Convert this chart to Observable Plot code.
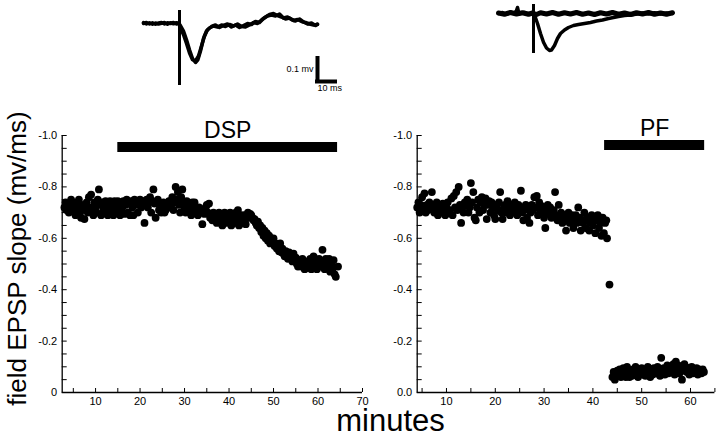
<!DOCTYPE html>
<html><head><meta charset="utf-8">
<script src="https://cdn.jsdelivr.net/npm/d3@7"></script>
<script src="https://cdn.jsdelivr.net/npm/@observablehq/plot@0.6"></script>
<style>
html,body{margin:0;padding:0;background:#fff;}
#chart{position:relative;width:720px;height:436px;overflow:hidden;background:#fff;}
#chart svg{position:absolute;left:0;top:0;}
</style></head><body><div id="chart"></div>
<script>
// ---------------- DATA ----------------
// y axis (field EPSP slope, mv/ms)
const yTicks = [-1.0, -0.8, -0.6, -0.4, -0.2, 0];
const leftYLabels = ["-1.0", "-0.8", "-0.6", "-0.4", "-0.2", "0"];
const rightYLabels = ["-1.0", "-0.8", "-0.6", "-0.4", "-0.2", "0.0"];
const yMinorTicks = [-1.0, -0.95, -0.9, -0.85, -0.8, -0.75, -0.7, -0.65, -0.6, -0.55, -0.5, -0.45, -0.4, -0.35, -0.3, -0.25, -0.2, -0.15, -0.1, -0.05, 0];
// x axes (minutes)
const dspXRange = [2.5, 70];
const pfXRange = [4, 65];
const xTicksLeft = [10, 20, 30, 40, 50, 60, 70];
const xTicksRight = [10, 20, 30, 40, 50, 60];
const xMinorLeft = [5, 10, 15, 20, 25, 30, 35, 40, 45, 50, 55, 60, 65, 70];
const xMinorRight = [5, 10, 15, 20, 25, 30, 35, 40, 45, 50, 55, 60, 65];
// treatment periods (minutes)
const dspPeriod = [15, 64.4];
const pfPeriod = [42.4, 62.9];

// DSP experiment: [minute, samples within that minute]
const dspSlope = [
  [3, [-0.72, -0.74, -0.71, -0.73]],
  [4, [-0.70, -0.73, -0.75, -0.72]],
  [5, [-0.74, -0.71, -0.69, -0.73]],
  [6, [-0.72, -0.75, -0.70, -0.68]],
  [7, [-0.71, -0.73, -0.675, -0.72]],
  [8, [-0.74, -0.70, -0.76, -0.72]],
  [9, [-0.77, -0.71, -0.69, -0.74]],
  [10, [-0.72, -0.70, -0.75, -0.79]],
  [11, [-0.73, -0.69, -0.74, -0.71]],
  [12, [-0.70, -0.745, -0.72, -0.69]],
  [13, [-0.73, -0.745, -0.70, -0.72]],
  [14, [-0.69, -0.745, -0.73, -0.70]],
  [15, [-0.745, -0.71, -0.69, -0.74]],
  [16, [-0.72, -0.745, -0.695, -0.73]],
  [17, [-0.75, -0.70, -0.74, -0.69]],
  [18, [-0.745, -0.72, -0.69, -0.75]],
  [19, [-0.73, -0.745, -0.70, -0.74]],
  [20, [-0.75, -0.72, -0.745, -0.73]],
  [21, [-0.66, -0.745, -0.75, -0.72]],
  [22, [-0.74, -0.76, -0.70, -0.745]],
  [23, [-0.79, -0.735, -0.68, -0.74]],
  [24, [-0.75, -0.71, -0.73, -0.70]],
  [25, [-0.72, -0.74, -0.70, -0.71]],
  [26, [-0.735, -0.72, -0.745, -0.73]],
  [27, [-0.72, -0.76, -0.71, -0.74]],
  [28, [-0.80, -0.75, -0.78, -0.73]],
  [29, [-0.70, -0.76, -0.79, -0.74]],
  [30, [-0.72, -0.70, -0.745, -0.73]],
  [31, [-0.71, -0.73, -0.69, -0.74]],
  [32, [-0.72, -0.74, -0.70, -0.71]],
  [33, [-0.69, -0.72, -0.71, -0.70]],
  [34, [-0.655, -0.71, -0.695, -0.72]],
  [35, [-0.73, -0.70, -0.735, -0.68]],
  [36, [-0.69, -0.67, -0.70, -0.68]],
  [37, [-0.68, -0.66, -0.69, -0.70]],
  [38, [-0.67, -0.69, -0.65, -0.68]],
  [39, [-0.70, -0.66, -0.68, -0.69]],
  [40, [-0.67, -0.70, -0.65, -0.69]],
  [41, [-0.68, -0.66, -0.70, -0.67]],
  [42, [-0.71, -0.65, -0.69, -0.68]],
  [43, [-0.66, -0.69, -0.67, -0.655]],
  [44, [-0.69, -0.70, -0.68, -0.695]],
  [45, [-0.69, -0.68, -0.67, -0.675]],
  [46, [-0.66, -0.65, -0.665, -0.64]],
  [47, [-0.65, -0.625, -0.64, -0.61]],
  [48, [-0.63, -0.60, -0.62, -0.59]],
  [49, [-0.61, -0.58, -0.60, -0.59]],
  [50, [-0.60, -0.57, -0.58, -0.56]],
  [51, [-0.57, -0.55, -0.58, -0.545]],
  [52, [-0.56, -0.54, -0.53, -0.55]],
  [53, [-0.535, -0.52, -0.545, -0.53]],
  [54, [-0.53, -0.51, -0.54, -0.52]],
  [55, [-0.525, -0.50, -0.49, -0.515]],
  [56, [-0.51, -0.49, -0.52, -0.50]],
  [57, [-0.48, -0.50, -0.485, -0.51]],
  [58, [-0.50, -0.52, -0.48, -0.49]],
  [59, [-0.53, -0.49, -0.51, -0.48]],
  [60, [-0.50, -0.52, -0.49, -0.51]],
  [61, [-0.555, -0.50, -0.48, -0.52]],
  [62, [-0.51, -0.49, -0.52, -0.47]],
  [63, [-0.50, -0.48, -0.515, -0.46]],
  [64, [-0.45, -0.49]]
];

// PF experiment: baseline, transition points, after PF
const pfBaseline = [
  [4, [-0.72, -0.74, -0.70, -0.73]],
  [5, [-0.76, -0.72, -0.775, -0.70]],
  [6, [-0.73, -0.71, -0.74, -0.72]],
  [7, [-0.78, -0.73, -0.70, -0.715]],
  [8, [-0.74, -0.69, -0.72, -0.73]],
  [9, [-0.70, -0.735, -0.71, -0.69]],
  [10, [-0.72, -0.74, -0.70, -0.71]],
  [11, [-0.755, -0.69, -0.765, -0.72]],
  [12, [-0.78, -0.71, -0.80, -0.73]],
  [13, [-0.66, -0.72, -0.70, -0.74]],
  [14, [-0.73, -0.75, -0.70, -0.72]],
  [15, [-0.815, -0.74, -0.78, -0.68]],
  [16, [-0.67, -0.72, -0.75, -0.70]],
  [17, [-0.74, -0.76, -0.71, -0.73]],
  [18, [-0.755, -0.675, -0.73, -0.745]],
  [19, [-0.70, -0.74, -0.72, -0.69]],
  [20, [-0.675, -0.73, -0.71, -0.74]],
  [21, [-0.78, -0.70, -0.675, -0.72]],
  [22, [-0.73, -0.70, -0.745, -0.71]],
  [23, [-0.69, -0.73, -0.72, -0.70]],
  [24, [-0.74, -0.71, -0.69, -0.73]],
  [25, [-0.72, -0.785, -0.70, -0.67]],
  [26, [-0.71, -0.73, -0.68, -0.72]],
  [27, [-0.66, -0.70, -0.73, -0.71]],
  [28, [-0.76, -0.72, -0.765, -0.69]],
  [29, [-0.74, -0.71, -0.725, -0.70]],
  [30, [-0.68, -0.64, -0.71, -0.73]],
  [31, [-0.695, -0.72, -0.68, -0.70]],
  [32, [-0.71, -0.78, -0.69, -0.67]],
  [33, [-0.73, -0.68, -0.70, -0.66]],
  [34, [-0.67, -0.69, -0.63, -0.68]],
  [35, [-0.70, -0.66, -0.68, -0.69]],
  [36, [-0.64, -0.67, -0.69, -0.66]],
  [37, [-0.72, -0.68, -0.63, -0.67]],
  [38, [-0.66, -0.70, -0.64, -0.68]],
  [39, [-0.67, -0.63, -0.66, -0.69]],
  [40, [-0.65, -0.68, -0.62, -0.67]],
  [41, [-0.69, -0.64, -0.66, -0.61]],
  [42, [-0.68, -0.62, -0.66, -0.67]]
];
const pfTransition = [[42.9, -0.60], [43.4, -0.42]];
const pfAfter = [
  [44, [-0.06, -0.08, -0.05, -0.07]],
  [45, [-0.085, -0.065, -0.09, -0.06]],
  [46, [-0.07, -0.095, -0.08, -0.06]],
  [47, [-0.10, -0.075, -0.06, -0.085]],
  [48, [-0.065, -0.09, -0.07, -0.10]],
  [49, [-0.08, -0.06, -0.085, -0.075]],
  [50, [-0.095, -0.07, -0.08, -0.065]],
  [51, [-0.085, -0.10, -0.075, -0.06]],
  [52, [-0.09, -0.07, -0.095, -0.08]],
  [53, [-0.075, -0.10, -0.085, -0.065]],
  [54, [-0.135, -0.08, -0.095, -0.07]],
  [55, [-0.09, -0.105, -0.075, -0.085]],
  [56, [-0.10, -0.08, -0.11, -0.07]],
  [57, [-0.12, -0.09, -0.105, -0.075]],
  [58, [-0.095, -0.05, -0.085, -0.11]],
  [59, [-0.10, -0.08, -0.095, -0.07]],
  [60, [-0.09, -0.10, -0.075, -0.085]],
  [61, [-0.08, -0.095, -0.07, -0.09]],
  [62, [-0.085, -0.075, -0.09, -0.08]]
];

// Example field EPSP traces: [ms, mV]
const dspTraceBefore = [[0,0.000],[1.5,0.004],[3,-0.002],[4.5,0.003],[6,-0.003],[7.5,0.002],[9,0.004],[10.5,-0.002],[12,0.003],[13.5,0.000],[15,0.004],[16.5,-0.002],[17.6,0.002],[18.6,-0.01],[20,-0.03],[21.5,-0.065],[23,-0.105],[24.5,-0.14],[26,-0.156],[27.2,-0.145],[28.5,-0.11],[30,-0.06],[31.5,-0.03],[33,-0.018],[35,-0.01],[37,-0.014],[39,-0.006],[41,-0.012],[43,-0.004],[45,-0.01],[47,-0.002],[49,-0.012],[51,-0.014],[53,-0.006],[55,0.004],[57,0.000],[59,0.014],[61,0.026],[63,0.036],[65,0.04],[67,0.032],[69,0.026],[71,0.018],[73,0.022],[75,0.012],[77,0.016],[79,0.008],[81,0.004],[83,-0.002],[85,-0.006],[87,-0.004]];
const dspTraceDuring = [[0,0.004],[1.5,-0.002],[3,0.003],[4.5,-0.003],[6,0.002],[7.5,-0.002],[9,0.001],[10.5,0.004],[12,-0.003],[13.5,0.003],[15,-0.001],[16.5,0.003],[17.6,0.000],[18.6,-0.02],[20,-0.045],[21.5,-0.08],[23,-0.118],[24.5,-0.145],[26,-0.15],[27.5,-0.13],[29,-0.09],[30.5,-0.05],[32,-0.025],[34,-0.012],[36,-0.006],[38,-0.016],[40,-0.008],[42,-0.002],[44,-0.014],[46,-0.006],[48,-0.016],[50,-0.008],[52,0.000],[54,-0.004],[56,0.008],[58,0.004],[60,0.02],[62,0.03],[64,0.034],[66,0.03],[68,0.038],[70,0.022],[72,0.026],[74,0.016],[76,0.01],[78,0.018],[80,0.006],[82,-0.002],[84,0.002],[86,-0.008],[87,-0.002]];
const dspArtifact = [18, 0.052, -0.248];   // [ms, top mV, bottom mV]
const pfTraceBefore = [[0,0],[2,0.004],[4,-0.003],[6,0.003],[8,0.002],[9,0.012],[9.5,0.024],[10,0.006],[11,0],[13,0.004],[15,-0.002],[17,0.002],[18.2,-0.01],[19.5,-0.04],[21,-0.08],[22.5,-0.115],[24,-0.138],[25.5,-0.148],[26.5,-0.146],[28,-0.128],[29.5,-0.1],[31,-0.08],[33,-0.066],[35,-0.056],[37.5,-0.048],[40,-0.044],[43,-0.04],[46,-0.036],[49,-0.03],[52,-0.026],[55,-0.02],[57.5,-0.016],[60,-0.012],[63,-0.008],[66,-0.006],[69.5,-0.002],[72,0.002],[75,-0.002],[78,0.003],[81,-0.002],[84,0.002],[87,0]];
const pfTraceAfter = [[0,0.002],[3,-0.003],[6,0.004],[9,-0.002],[12,0.003],[15,-0.003],[17,0.002],[19,-0.004],[21,0.003],[24,-0.002],[27,0.004],[30,-0.003],[33,0.003],[36,-0.002],[39,0.004],[42,-0.003],[45,0.002],[48,-0.004],[51,0.003],[54,-0.002],[57,0.004],[60,-0.003],[63,0.002],[66,-0.004],[69,0.003],[72,-0.002],[75,0.004],[78,-0.003],[81,0.002],[84,-0.003],[87,0.003]];
const pfArtifact = [17.5, 0.036, -0.16];
// scale bar: [start ms, base mV, length ms, height mV]
const scaleBar = [87, -0.232, 10, 0.1];
const scaleBarLabels = ["0.1 mv", "10 ms"];

// ---------------- DRAWING ----------------
const W = 720, H = 436;
const FONT = "'Liberation Sans', Arial, Helvetica, sans-serif";
const base = {width: W, height: H, style: {background: "transparent", overflow: "visible", fontFamily: FONT, color: "black"}};
function expand(rows) {
  const out = [];
  for (const [m, vals] of rows) vals.forEach((v, k) => out.push({t: m + k / vals.length, v}));
  return out;
}
const dspData = expand(dspSlope);
const pfData = expand(pfBaseline).concat(pfTransition.map(([t, v]) => ({t, v})), expand(pfAfter));

const chart = document.getElementById("chart");

function panel({xRange, m, data, xTicks, xMinor, yLabels, period, barY, label, extra}) {
  const frameW = W - m.marginLeft - m.marginRight;
  const frameH = H - m.marginTop - m.marginBottom;
  return Plot.plot({
    ...base, ...m,
    x: {domain: xRange},
    y: {domain: [0, -1]},
    marks: [
      Plot.ruleX([xRange[0]], {strokeWidth: 1.3}),
      Plot.ruleY([0], {strokeWidth: 1.3}),
      Plot.tickY(yMinorTicks, {y: d => d, insetRight: frameW - 5, strokeWidth: 1}),
      Plot.tickX(xMinor, {x: d => d, insetTop: frameH - 4, strokeWidth: 1}),
      Plot.axisY({ticks: yTicks, tickSize: 0, tickPadding: 5, tickFormat: d => yLabels[yTicks.indexOf(d)], fontSize: 11, label: null}),
      Plot.axisX({ticks: xTicks, tickSize: 0, tickPadding: 5, fontSize: 11, label: null}),
      Plot.dot(data, {x: "t", y: "v", r: 3.9, fill: "black", stroke: null}),
      Plot.ruleY([barY], {x1: period[0], x2: period[1], strokeWidth: 10}),
      Plot.text([label], {x: (period[0] + period[1]) / 2, y: barY, text: d => d, dy: -9.5, lineAnchor: "bottom", fontSize: 23}),
      ...(extra || [])
    ]
  });
}

chart.append(panel({
  xRange: dspXRange,
  m: {marginLeft: 61.7, marginRight: 358, marginTop: 135, marginBottom: 44},
  data: dspData, xTicks: xTicksLeft, xMinor: xMinorLeft, yLabels: leftYLabels,
  period: dspPeriod, barY: -0.955, label: "DSP",
  extra: [Plot.text(["field EPSP slope (mv/ms)"], {frameAnchor: "left", textAnchor: "middle", text: d => d, rotate: -90, dx: -44.5, dy: -5.5, fontSize: 26})]
}));

chart.append(panel({
  xRange: pfXRange,
  m: {marginLeft: 416.7, marginRight: 5.6, marginTop: 135, marginBottom: 44},
  data: pfData, xTicks: xTicksRight, xMinor: xMinorRight, yLabels: rightYLabels,
  period: pfPeriod, barY: -0.963, label: "PF",
  extra: [Plot.text(["minutes"], {frameAnchor: "bottom-left", textAnchor: "middle", text: d => d, dx: 390 - 416.7, dy: 38, lineAnchor: "bottom", fontSize: 31})]
}));

// trace insets
const lineOpts = {x: d => d[0], y: d => d[1], strokeWidth: 3.5, strokeLinejoin: "round", strokeLinecap: "round"};
chart.append(Plot.plot({
  ...base, marginLeft: 143, marginRight: 377, marginTop: 0, marginBottom: 338,
  x: {domain: [0, 100], axis: null}, y: {domain: [-0.3, 0.092], axis: null},
  marks: [
    Plot.line(dspTraceBefore, lineOpts),
    Plot.line(dspTraceDuring, lineOpts),
    Plot.ruleX([dspArtifact[0]], {y1: dspArtifact[1], y2: dspArtifact[2], strokeWidth: 3}),
    Plot.ruleX([scaleBar[0]], {y1: scaleBar[1], y2: scaleBar[1] + scaleBar[3], strokeWidth: 4}),
    Plot.ruleY([scaleBar[1]], {x1: scaleBar[0] - 1, x2: scaleBar[0] + scaleBar[2], strokeWidth: 4}),
    Plot.text([scaleBarLabels[0]], {x: scaleBar[0] - 2, y: scaleBar[1] + scaleBar[3] / 2, text: d => d, textAnchor: "end", fontSize: 9}),
    Plot.text([scaleBarLabels[1]], {x: scaleBar[0], y: scaleBar[1], text: d => d, textAnchor: "start", lineAnchor: "top", dy: 3, fontSize: 9})
  ]
}));
chart.append(Plot.plot({
  ...base, marginLeft: 498, marginRight: 22, marginTop: 0, marginBottom: 348,
  x: {domain: [0, 100], axis: null}, y: {domain: [-0.3, 0.052], axis: null},
  marks: [
    Plot.line(pfTraceAfter, {...lineOpts, strokeWidth: 5}),
    Plot.line(pfTraceBefore, lineOpts),
    Plot.ruleX([pfArtifact[0]], {y1: pfArtifact[1], y2: pfArtifact[2], strokeWidth: 3})
  ]
}));
</script></body></html>
